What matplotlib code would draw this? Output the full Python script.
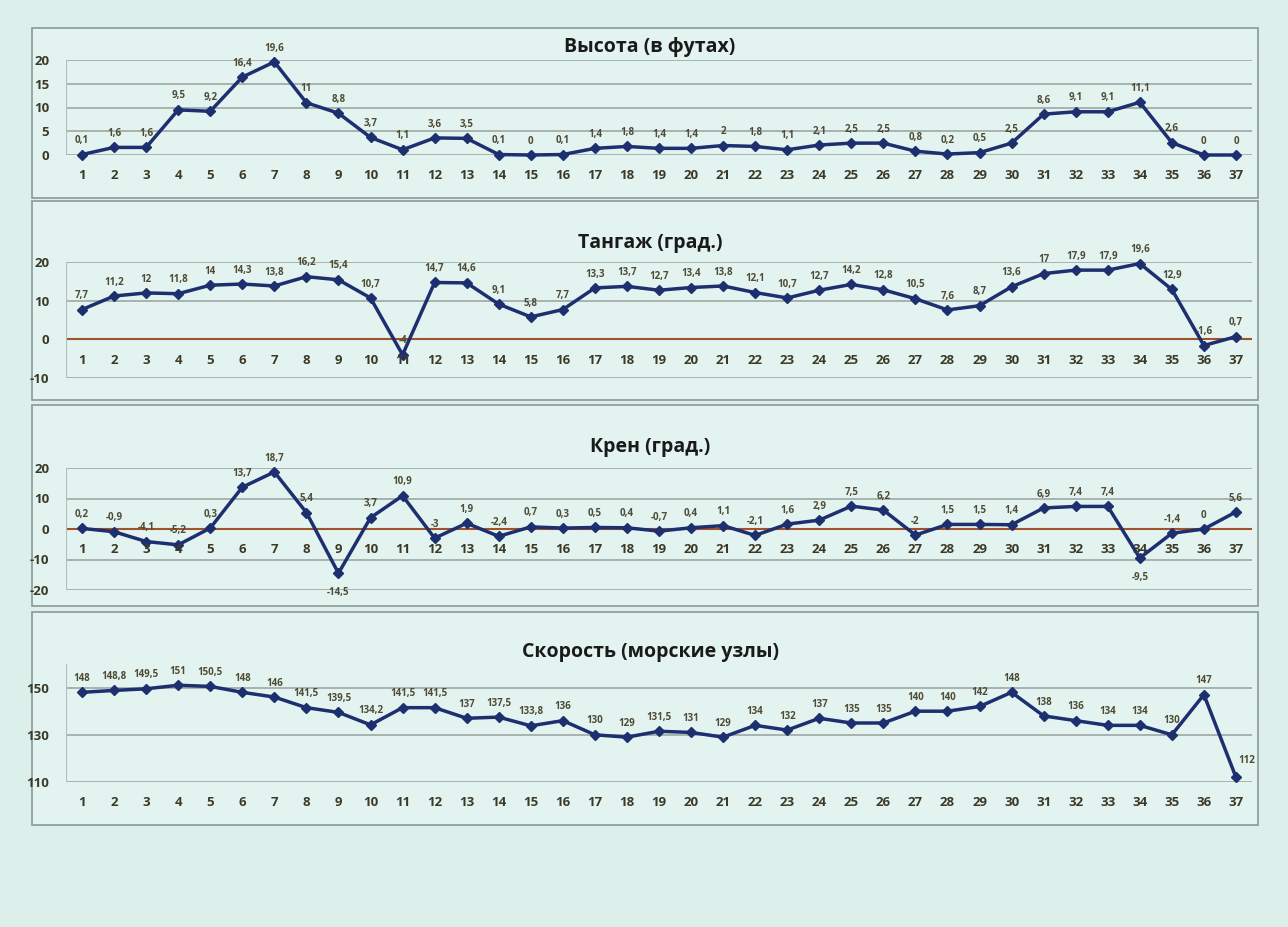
import matplotlib
matplotlib.use("Agg")
import matplotlib.pyplot as plt
from matplotlib.patches import Rectangle

plt.rcParams['font.family'] = ['Open Sans', 'DejaVu Sans']

# данные (по подписям на графиках)
points = list(range(1, 38))

altitude = [0.1, 1.6, 1.6, 9.5, 9.2, 16.4, 19.6, 11, 8.8, 3.7, 1.1, 3.6, 3.5, 0.1, 0, 0.1,
            1.4, 1.8, 1.4, 1.4, 2, 1.8, 1.1, 2.1, 2.5, 2.5, 0.8, 0.2, 0.5, 2.5, 8.6, 9.1,
            9.1, 11.1, 2.6, 0, 0]
pitch = [7.7, 11.2, 12, 11.8, 14, 14.3, 13.8, 16.2, 15.4, 10.7, -4, 14.7, 14.6, 9.1, 5.8,
         7.7, 13.3, 13.7, 12.7, 13.4, 13.8, 12.1, 10.7, 12.7, 14.2, 12.8, 10.5, 7.6, 8.7,
         13.6, 17, 17.9, 17.9, 19.6, 12.9, -1.6, 0.7]
roll = [0.2, -0.9, -4.1, -5.2, 0.3, 13.7, 18.7, 5.4, -14.5, 3.7, 10.9, -3, 1.9, -2.4, 0.7,
        0.3, 0.5, 0.4, -0.7, 0.4, 1.1, -2.1, 1.6, 2.9, 7.5, 6.2, -2, 1.5, 1.5, 1.4, 6.9,
        7.4, 7.4, -9.5, -1.4, 0, 5.6]
speed = [148, 148.8, 149.5, 151, 150.5, 148, 146, 141.5, 139.5, 134.2, 141.5, 141.5, 137,
         137.5, 133.8, 136, 130, 129, 131.5, 131, 129, 134, 132, 137, 135, 135, 140, 140,
         142, 148, 138, 136, 134, 134, 130, 147, 112]

titles = ["Высота (в футах)", "Тангаж (град.)", "Крен (град.)", "Скорость (морские узлы)"]

W, H = 1288, 927
fig = plt.figure(figsize=(W / 100, H / 100), dpi=100)
fig.patch.set_facecolor('#dcefea')

LINE = '#1d2f6f'
LBL = '#4f4b36'
TICK = '#3b3a28'


def px_rect(x0, y0, x1, y1):
    return [x0 / W, 1 - y1 / H, (x1 - x0) / W, (y1 - y0) / H]


panels = [(32, 28, 1258, 198), (32, 201, 1258, 400), (32, 405, 1258, 606), (32, 612, 1258, 825)]
for (x0, y0, x1, y1) in panels:
    fig.patches.append(Rectangle((x0 / W, 1 - y1 / H), (x1 - x0) / W, (y1 - y0) / H,
                                 transform=fig.transFigure, facecolor='#e3f4f0',
                                 edgecolor='#8c9996', lw=1.2, zorder=-5))

title_y = [47, 243, 447, 652]
for t, ty in zip(titles, title_y):
    fig.text(650 / W, 1 - ty / H, t, ha='center', va='center', fontsize=14,
             fontweight='bold', color='#1a1a1a', zorder=5)

# (данные, пиксели оси, пределы, деления, уровень оси X, подписи снизу)
configs = [
    (altitude, (66, 60, 1252, 155), (0, 20), [0, 5, 10, 15, 20], 0, []),
    (pitch, (66, 262, 1252, 378), (-10, 20), [-10, 0, 10, 20], 0, []),
    (roll, (66, 468, 1252, 590), (-20, 20), [-20, -10, 0, 10, 20], 0, [9, 34]),
    (speed, (66, 664, 1252, 782), (110, 160), [110, 130, 150], 110, []),
]

for vals, box, ylim, yticks, axis_y, below in configs:
    ax = fig.add_axes(px_rect(*box))
    ax.set_zorder(2)
    ax.set_facecolor('none')
    ax.set_xlim(0.5, 37.5)
    ax.set_ylim(*ylim)
    for s in ax.spines.values():
        s.set_visible(False)
    ax.set_xticks([])
    ax.set_yticks(yticks)
    ax.set_yticklabels([str(v) for v in yticks], fontsize=9.5, fontweight='bold', color=TICK)
    ax.tick_params(axis='y', length=0, pad=12)
    for v in yticks:
        if v == 0 and axis_y == 0 and ylim[0] < 0:
            ax.axhline(v, color='#a0522d', lw=1.5, zorder=1)
        else:
            ax.axhline(v, color='#9ea7a4', lw=1.2, zorder=1)
    ax.axvline(0.5, color='#b4bdba', lw=0.8, zorder=1)

    ax.plot(points, vals, color=LINE, lw=2.5, marker='D', markersize=5,
            markerfacecolor=LINE, markeredgecolor=LINE, zorder=3, clip_on=False)

    for x, v in zip(points, vals):
        txt = f"{v:g}".replace('.', ',')
        dx, dy = 0, (-14 if x in below else 10)
        if vals is speed and x == 37:
            dx, dy = 8, 12
        ax.annotate(txt, (x, v), xytext=(dx, dy), textcoords='offset points',
                    ha='center', va='center', fontsize=7, color=LBL,
                    fontweight='bold', annotation_clip=False)
        ax.annotate(str(x), (x, axis_y), xytext=(0, -15), textcoords='offset points',
                    ha='center', va='center', fontsize=9.5, color=TICK,
                    fontweight='bold', annotation_clip=False)

fig.savefig('out.png', dpi=100, facecolor=fig.get_facecolor())
